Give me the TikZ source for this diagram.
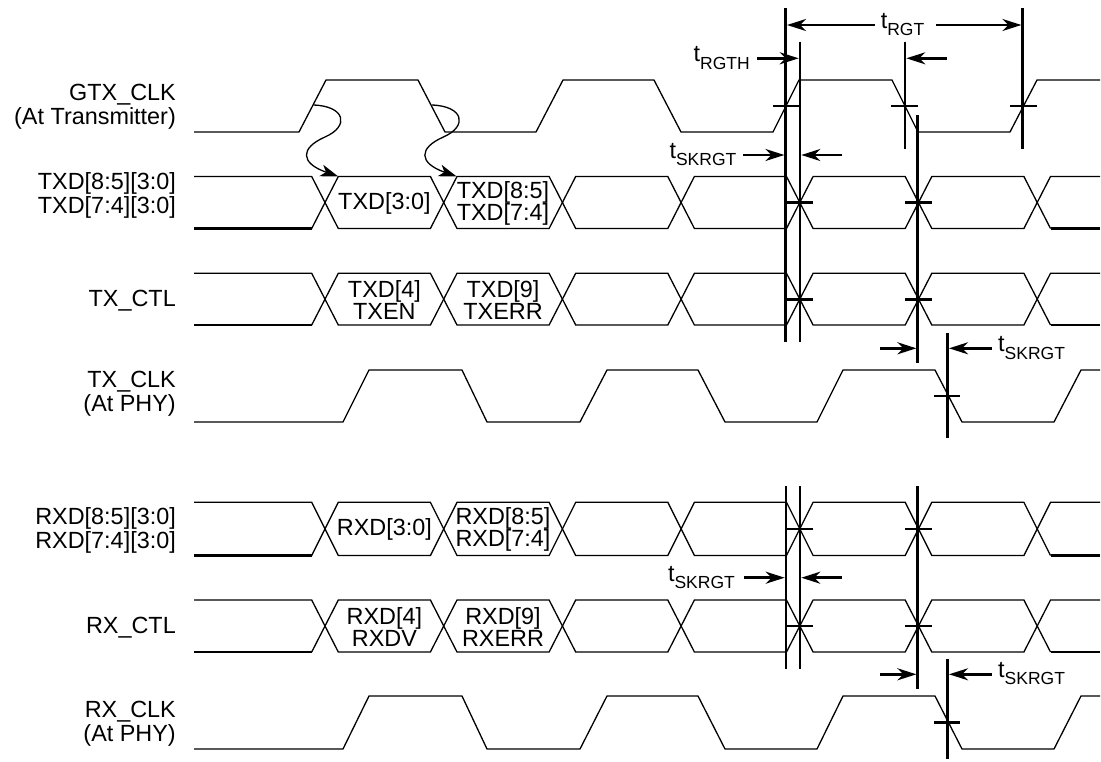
\documentclass[tikz,border=0pt]{standalone}
\usepackage{fontspec}
\setmainfont{Liberation Sans}
\usetikzlibrary{arrows.meta}
\newcommand\tlab[1]{t\raisebox{-7.3pt}{\fontsize{17.5}{18}\selectfont #1}}
\newcommand\drawbus[2]{%
  \pgfmathsetmacro\busmid{(#1+#2)/2}
  \draw[wave] (194,#1) -- (311.7,#1) -- (325,\busmid) -- (311.7,#2);
  \draw[heavy] (194,#2) -- (311.7,#2);
  \foreach \ca/\cb in {325/443.7, 443.7/562.4, 562.4/681.1, 681.1/799.8, 799.8/918.5, 918.5/1037.2}{
    \draw[wave] (\ca,\busmid) -- (\ca+13.3,#1) -- (\cb-13.3,#1) -- (\cb,\busmid) -- (\cb-13.3,#2) -- (\ca+13.3,#2) -- cycle;
  }
  \draw[wave] (1100,#1) -- (1050.5,#1) -- (1037.2,\busmid) -- (1050.5,#2);
  \draw[heavy] (1050.5,#2) -- (1100,#2);
}
\begin{document}
\begin{tikzpicture}[x=1pt,y=-1pt,
  wave/.style={line width=1.3pt, line join=miter},
  heavy/.style={line width=2.3pt},
  tline/.style={line width=2.6pt},
  dim/.style={line width=2.6pt,-{Stealth[length=19pt,width=12pt,inset=6pt]}},
  curv/.style={line width=1.3pt,-{Stealth[length=18pt,width=12pt,inset=5pt]}},
  lab/.style={font=\fontsize{23.4}{24}\selectfont, align=right, anchor=east, inner sep=0pt},
  dat/.style={font=\fontsize{23.4}{22}\selectfont, align=center, inner sep=0pt},
  tlabel/.style={font=\fontsize{23.4}{24}\selectfont, inner sep=0pt},
]
\useasboundingbox (0,0) rectangle (1101,761);

% ---------- left labels
\node[lab] (lgtx) at (176,107) {GTX\_CLK\\(At Transmitter)};
\node[lab] (ltxd) at (176,195) {TXD[8:5][3:0]\\TXD[7:4][3:0]};
\node[lab] (ltxctl) at (176,301) {TX\_CTL};
\node[lab] (ltxclk) at (176,394) {TX\_CLK\\(At PHY)};
\node[lab] (lrxd) at (176,530) {RXD[8:5][3:0]\\RXD[7:4][3:0]};
\node[lab] (lrxctl) at (176,628) {RX\_CTL};
\node[lab] (lrxclk) at (176,724) {RX\_CLK\\(At PHY)};

% ---------- clocks
\draw[wave] (194,132) -- (299,132) -- (326,80) -- (418,80) -- (445,132) -- (536,132) -- (563,80) -- (654,80) -- (681,132) -- (773,132) -- (799,80) -- (892,80) -- (918,132) -- (1010,132) -- (1037,80) -- (1100,80);
\draw[wave] (194,422) -- (343,422) -- (369,370) -- (462,370) -- (487,422) -- (580,422) -- (607,370) -- (698,370) -- (725,422) -- (817,422) -- (843,370) -- (935,370) -- (962,422) -- (1054,422) -- (1081,370) -- (1100,370);
\draw[wave] (194,749) -- (343,749) -- (369,696) -- (462,696) -- (487,749) -- (580,749) -- (607,696) -- (698,696) -- (725,749) -- (817,749) -- (843,696) -- (935,696) -- (962,749) -- (1054,749) -- (1081,696) -- (1100,696);

% ---------- buses
\drawbus{176.5}{228.5}
\drawbus{273.3}{325}
\drawbus{502.3}{555.5}
\drawbus{600}{652}

% ---------- bus data labels
\node[dat] (d1) at (384.4,203) {TXD[3:0]};
\node[dat] (d2) at (503,203) {TXD[8:5]\\TXD[7:4]};
\node[dat] (d3) at (384.4,300) {TXD[4]\\TXEN};
\node[dat] (d4) at (503,300) {TXD[9]\\TXERR};
\node[dat] (d5) at (384.4,529.5) {RXD[3:0]};
\node[dat] (d6) at (503,529.5) {RXD[8:5]\\RXD[7:4]};
\node[dat] (d7) at (384.4,627) {RXD[4]\\RXDV};
\node[dat] (d8) at (503,627) {RXD[9]\\RXERR};

% ---------- curved causal arrows
\coordinate (c1s) at (313.3,105);
\coordinate (c1e) at (338.3,176.5);
\coordinate (c2s) at (431.7,105);
\coordinate (c2e) at (456.7,176.5);
\draw[curv] (c1s) .. controls (345,106) and (350,126) .. (325,137) .. controls (300,148) and (300,163) .. (c1e);
\draw[curv] (c2s) .. controls (463.4,106) and (468.4,126) .. (443.4,137) .. controls (418.4,148) and (418.4,163) .. (c2e);

% ---------- vertical timing lines (TX)
\draw[tline] (785.7,8) -- (785.7,342);
\draw[tline] (800,41.7) -- (800,342);
\draw[tline] (905,41.7) -- (905,149);
\draw[tline] (917.7,115) -- (917.7,363);
\draw[tline] (1022.7,8) -- (1022.7,149);
\draw[tline] (947.7,333) -- (947.7,438);
% ---------- vertical timing lines (RX)
\draw[tline] (786,486) -- (786,669);
\draw[tline] (800,486) -- (800,669);
\draw[tline] (917.7,486) -- (917.7,689);
\draw[tline] (947.7,659) -- (947.7,759);

% ---------- crossing ticks
\draw[tline] (773,106) -- (799,106);
\draw[tline] (891,106) -- (917.7,106);
\draw[tline] (1010,106) -- (1036.7,106);
\foreach \yy in {202.5,299.2,528.9,626}{
  \draw[tline] (786.7,\yy) -- (812.7,\yy);
  \draw[tline] (905,\yy) -- (931.5,\yy);
}
\draw[tline] (934,396) -- (960,396);
\draw[tline] (934,722.7) -- (960,722.7);

% ---------- dimension arrows
\node[tlabel, anchor=base] (trgt) at (902.5,28.5) {\tlab{RGT}};
\draw[dim] (trgt.west |- 0,25) ++(-6,0) -- (787,25);
\draw[dim] (trgt.east |- 0,25) ++(12,0) -- (1021.4,25);

\node[tlabel, anchor=base east] (trgth) at (750,61.7) {\tlab{RGTH}};
\draw[dim] (757,58.3) -- (798.7,58.3);
\draw[dim] (947,58.3) -- (906.3,58.3);

\node[tlabel, anchor=base east] (tsk1) at (736.5,158.3) {\tlab{SKRGT}};
\draw[dim] (743,155) -- (784.4,155);
\draw[dim] (842,155) -- (801.3,155);

\node[tlabel, anchor=base west] (tsk2) at (998,351.7) {\tlab{SKRGT}};
\draw[dim] (880,348.3) -- (916.4,348.3);
\draw[dim] (991.7,348.3) -- (949,348.3);

\node[tlabel, anchor=base east] (tsk3) at (735,581) {\tlab{SKRGT}};
\draw[dim] (744,577.7) -- (784.7,577.7);
\draw[dim] (842,577.7) -- (801.3,577.7);

\node[tlabel, anchor=base west] (tsk4) at (998,677.6) {\tlab{SKRGT}};
\draw[dim] (880,674.3) -- (916.4,674.3);
\draw[dim] (991.7,674.3) -- (949,674.3);
\end{tikzpicture}
\end{document}
